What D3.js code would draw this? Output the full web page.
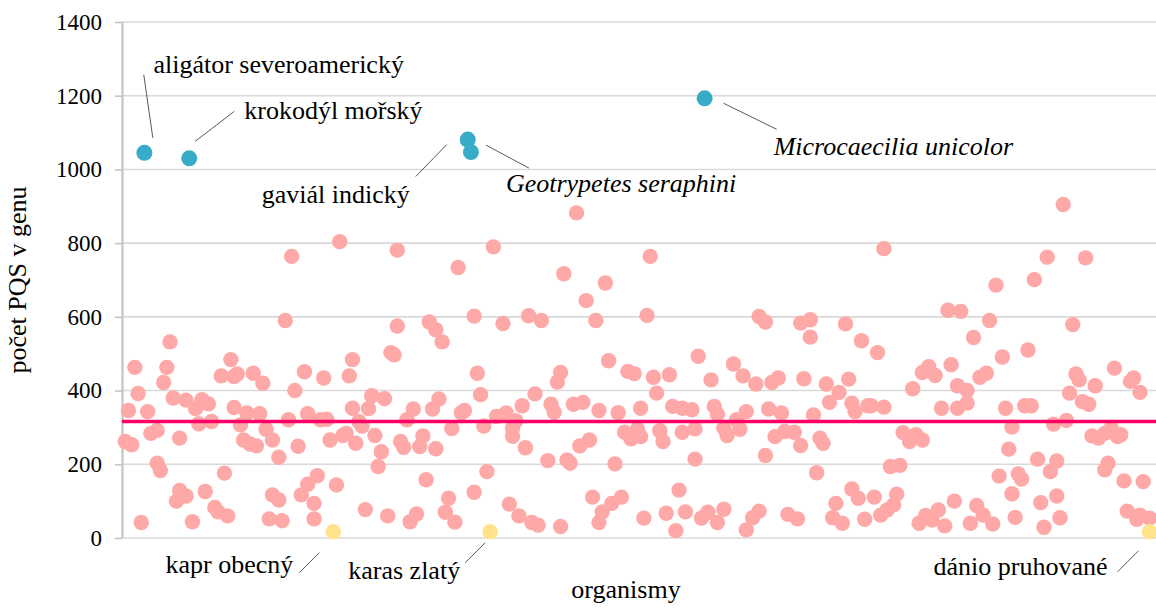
<!DOCTYPE html>
<html>
<head>
<meta charset="utf-8">
<script src="https://cdn.jsdelivr.net/npm/d3@7"></script>
<style>
  body { margin: 0; background: #fff; }
  svg { display: block; font-family: "Liberation Serif", "Times New Roman", serif; }
</style>
</head>
<body>
<svg width="1156" height="610"></svg>
<script>
// Data: [pořadí organismu, počet PQS v genu]
const ostatni = [
  [1,262],[2,346],[3,253],[4,463],[5,392],[6,42],[8,343],[9,284],[11,292],[11,203],[12,183],[13,422],[14,463],[15,532],
  [16,380],[17,100],[18,271],[18,129],[20,114],[20,374],[22,44],[23,351],[24,310],[25,375],[26,126],[27,364],[28,316],
  [29,83],[30,71],[31,440],[32,176],[33,60],[34,484],[35,438],[35,354],[36,445],[37,307],[38,266],[39,339],[40,255],
  [41,447],[42,250],[43,337],[44,420],[45,295],[46,52],[47,117],[47,266],[49,103],[49,219],[50,47],[51,590],[52,321],
  [53,764],[54,400],[55,249],[56,117],[57,451],[58,146],[58,337],[60,52],[60,94],[61,169],[62,321],[63,434],[64,322],
  [65,266],[67,144],[68,804],[69,278],[70,284],[71,440],[72,484],[72,352],[73,257],[74,316],[75,304],[76,77],[77,351],
  [78,386],[79,278],[80,194],[81,234],[82,378],[83,60],[84,503],[85,497],[86,781],[86,575],[87,262],[88,246],[89,321],
  [90,44],[91,350],[92,65],[93,248],[94,277],[95,158],[96,586],[97,350],[98,565],[98,242],[99,377],[100,532],[101,70],
  [102,108],[103,297],[104,43],[105,734],[106,340],[107,346],[110,602],[110,124],[111,447],[112,389],[113,304],[114,180],
  [116,790],[117,330],[119,582],[120,339],[121,92],[122,276],[122,298],[123,318],[124,60],[125,359],[126,245],[127,603],
  [128,42],[129,391],[130,35],[131,590],[133,210],[134,363],[135,341],[136,423],[137,449],[137,31],[138,717],[139,212],
  [140,203],[141,363],[142,882],[143,250],[144,368],[145,644],[146,266],[147,111],[148,590],[149,346],[149,42],[150,71],
  [151,692],[152,481],[153,94],[154,201],[155,340],[156,111],[157,287],[158,452],[159,269],[160,446],[161,295],[162,275],
  [162,352],[163,54],[164,604],[165,764],[166,436],[167,393],[168,291],[169,262],[170,67],[171,443],[172,357],[173,20],
  [174,130],[175,352],[175,287],[176,71],[178,348],[179,296],[179,214],[180,493],[181,54],[183,70],[184,429],[185,357],
  [186,336],[186,42],[188,298],[188,78],[189,278],[191,472],[192,321],[193,295],[194,440],[195,22],[195,343],[197,55],
  [198,418],[199,601],[199,73],[201,586],[201,224],[202,350],[203,422],[204,275],[205,434],[206,339],[207,289],[208,64],
  [210,287],[211,52],[212,251],[212,583],[213,432],[215,592],[215,545],[216,334],[217,177],[218,271],[219,257],[220,418],
  [221,368],[222,55],[223,94],[224,395],[225,40],[226,581],[227,431],[228,366],[228,133],[229,343],[230,108],[231,535],
  [232,51],[233,359],[234,359],[235,111],[236,503],[237,62],[238,785],[238,355],[239,76],[240,194],[241,90],[242,119],
  [243,197],[244,286],[246,262],[247,405],[248,280],[249,40],[250,266],[250,449],[251,61],[252,465],[253,49],[254,441],
  [255,76],[256,352],[257,33],[258,618],[259,470],[260,100],[261,413],[261,352],[262,615],[264,400],[264,366],[265,40],
  [266,544],[267,88],[268,436],[269,62],[270,447],[271,590],[272,38],[273,686],[274,168],[275,491],[276,352],[277,241],
  [278,120],[278,301],[279,56],[280,174],[281,160],[282,359],[283,510],[284,359],[285,701],[286,214],[287,96],[288,29],
  [289,762],[290,180],[291,309],[292,209],[292,114],[293,55],[294,905],[295,319],[296,393],[297,579],[298,445],[299,429],
  [300,370],[301,760],[302,363],[303,277],[304,413],[305,271],[307,284],[307,185],[308,203],[309,298],[310,461],[311,275],
  [312,280],[313,155],[314,73],[315,425],[316,434],[317,51],[318,62],[318,395],[319,153],[321,54]
];
const plazi_obojzivelnici = [
  ['aligátor severoamerický', 7, 1045],
  ['krokodýl mořský', 21, 1030],
  ['gaviál indický', 108, 1081],
  ['Geotrypetes seraphini', 109, 1047],
  ['Microcaecilia unicolor', 182, 1193]
];
const ryby = [
  ['kapr obecný', 66, 17],
  ['karas zlatý', 115, 17],
  ['dánio pruhované', 321, 17]
];
const prumer = 316;
const y_ticks = [0, 200, 400, 600, 800, 1000, 1200, 1400];

// Label layout (offsets from the point, px)
const popisky = {
  'aligátor severoamerický': { dx: 9, dy: -80, anchor: 'start', italic: false, line: [-0.6, -78, 8.4, -15] },
  'krokodýl mořský': { dx: 55, dy: -39, anchor: 'start', italic: false, line: [45, -47, 6, -17] },
  'gaviál indický': { dx: -58, dy: 63, anchor: 'end', italic: false, line: [-52, 37, -21, 5] },
  'Geotrypetes seraphini': { dx: 35, dy: 40, anchor: 'start', italic: true, line: [15, -7, 58, 16] },
  'Microcaecilia unicolor': { dx: 69, dy: 57, anchor: 'start', italic: true, line: [19, 5, 72, 31] },
  'kapr obecný': { dx: -40, dy: 41, anchor: 'end', italic: false, line: [-34, 41, -14, 21] },
  'karas zlatý': { dx: -30, dy: 47, anchor: 'end', italic: false, line: [-25, 31, -5, 11] },
  'dánio pruhované': { dx: -42, dy: 43, anchor: 'end', italic: false, line: [-32, 40, -11, 19] }
};

const svg = d3.select('svg');
const margin = { top: 22, right: 0, bottom: 72, left: 122 };
const width = +svg.attr('width');
const height = +svg.attr('height');
const radius = 7.7;
const font = '"Liberation Serif", "Times New Roman", serif';

const x = d3.scaleLinear()
  .domain([0, 323])
  .range([margin.left, width - margin.right]);
const y = d3.scaleLinear()
  .domain([0, 1400])
  .range([height - margin.bottom, margin.top]);

// Gridlines
svg.append('g')
  .selectAll('line')
  .data(y_ticks)
  .enter()
  .append('line')
  .attr('x1', margin.left)
  .attr('x2', width)
  .attr('y1', d => y(d))
  .attr('y2', d => y(d))
  .attr('stroke', '#d9d9d9')
  .attr('stroke-width', 1.6);

// Y axis
const y_axis = svg.append('g')
  .attr('transform', `translate(${margin.left},0)`)
  .call(d3.axisLeft(y).tickValues(y_ticks).tickFormat(d3.format('d')).tickSize(7).tickPadding(13))
  .attr('font-family', font)
  .attr('font-size', 23);
y_axis.select('.domain')
  .attr('stroke', '#c4c4c4')
  .attr('stroke-width', 2.2)
  .attr('d', `M0.5,${y(1400)}V${y(0)}`);
y_axis.selectAll('.tick line')
  .attr('stroke', '#c4c4c4')
  .attr('stroke-width', 1.6);
y_axis.selectAll('.tick text')
  .attr('fill', '#000');

// Axis titles
svg.append('text')
  .attr('transform', `translate(26, ${(y(0) + y(1400)) / 2}) rotate(-90)`)
  .attr('text-anchor', 'middle')
  .style('font-size', '26px')
  .text('počet PQS v genu');

svg.append('text')
  .attr('x', 626)
  .attr('y', 598)
  .attr('text-anchor', 'middle')
  .style('font-size', '26px')
  .text('organismy');

// Points
svg.append('g')
  .selectAll('circle')
  .data(ostatni)
  .enter()
  .append('circle')
  .attr('cx', d => x(d[0]))
  .attr('cy', d => y(d[1]))
  .attr('r', radius)
  .attr('fill', '#ffa8a8');

// Mean line
svg.append('line')
  .attr('x1', x(0))
  .attr('x2', width)
  .attr('y1', y(prumer))
  .attr('y2', y(prumer))
  .attr('stroke', '#ff0066')
  .attr('stroke-width', 3.5);

svg.append('g')
  .selectAll('circle')
  .data(plazi_obojzivelnici)
  .enter()
  .append('circle')
  .attr('cx', d => x(d[1]))
  .attr('cy', d => y(d[2]))
  .attr('r', radius + 0.3)
  .attr('fill', '#37abc8');

svg.append('g')
  .selectAll('circle')
  .data(ryby)
  .enter()
  .append('circle')
  .attr('cx', d => x(d[1]))
  .attr('cy', d => y(d[2]))
  .attr('r', radius)
  .attr('fill', '#ffe38a');

// Annotations
const labels = svg.append('g');
plazi_obojzivelnici.concat(ryby).forEach(d => {
  const p = popisky[d[0]];
  const px = x(d[1]);
  const py = y(d[2]);
  labels.append('line')
    .attr('x1', px + p.line[0])
    .attr('y1', py + p.line[1])
    .attr('x2', px + p.line[2])
    .attr('y2', py + p.line[3])
    .attr('stroke', '#595959')
    .attr('stroke-width', 1);
  labels.append('text')
    .attr('x', px + p.dx)
    .attr('y', py + p.dy)
    .attr('text-anchor', p.anchor)
    .style('font-size', '26px')
    .style('font-style', p.italic ? 'italic' : 'normal')
    .text(d[0]);
});
</script>
</body>
</html>
